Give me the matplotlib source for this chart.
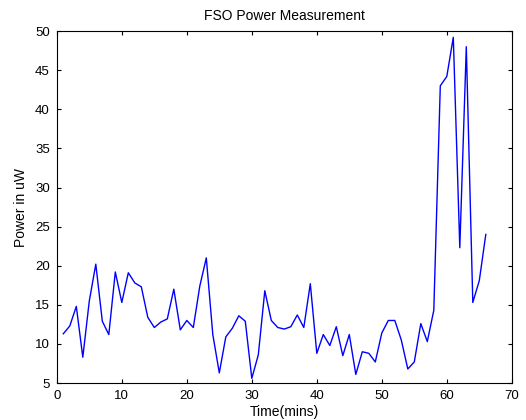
import numpy as np
import matplotlib
matplotlib.use("Agg")
import matplotlib.pyplot as plt

plt.rcParams['font.family'] = ['Liberation Sans', 'DejaVu Sans']

# time in minutes and measured power (uW)
time_min = np.arange(1, 67)
power_uw = [11.3, 12.3, 14.8, 8.3, 15.5, 20.2, 12.9, 11.2, 19.2, 15.3,
            19.1, 17.8, 17.3, 13.4, 12.1, 12.8, 13.2, 17.0, 11.8, 13.0,
            12.1, 17.4, 21.0, 11.2, 6.3, 10.9, 12.0, 13.6, 12.9, 5.6,
            8.6, 16.8, 13.0, 12.1, 11.9, 12.2, 13.7, 12.1, 17.7, 8.8,
            11.2, 9.8, 12.2, 8.5, 11.2, 6.1, 9.0, 8.8, 7.7, 11.4,
            13.0, 13.0, 10.5, 6.8, 7.7, 12.6, 10.3, 14.3, 43.0, 44.2,
            49.2, 22.3, 48.0, 15.3, 18.1, 24.0]

fig = plt.figure(figsize=(5.26, 4.20), dpi=100)
ax = fig.add_axes([0.108, 0.088, 0.865, 0.838])
ax.plot(time_min, power_uw, color='#0000ff', lw=1)

ax.set_xlim(0, 70)
ax.set_ylim(5, 50)
ax.set_xticks(np.arange(0, 71, 10))
ax.set_yticks(np.arange(5, 51, 5))
ax.tick_params(direction='in', top=True, right=True, labelsize=9.5, length=3, pad=5)
for s in ax.spines.values():
    s.set_linewidth(0.8)

ax.set_title('FSO Power Measurement', fontsize=10, pad=8)
ax.set_xlabel('Time(mins)', fontsize=10, labelpad=2)
ax.set_ylabel('Power in uW', fontsize=10, labelpad=5)

fig.savefig('out.png', dpi=100)
